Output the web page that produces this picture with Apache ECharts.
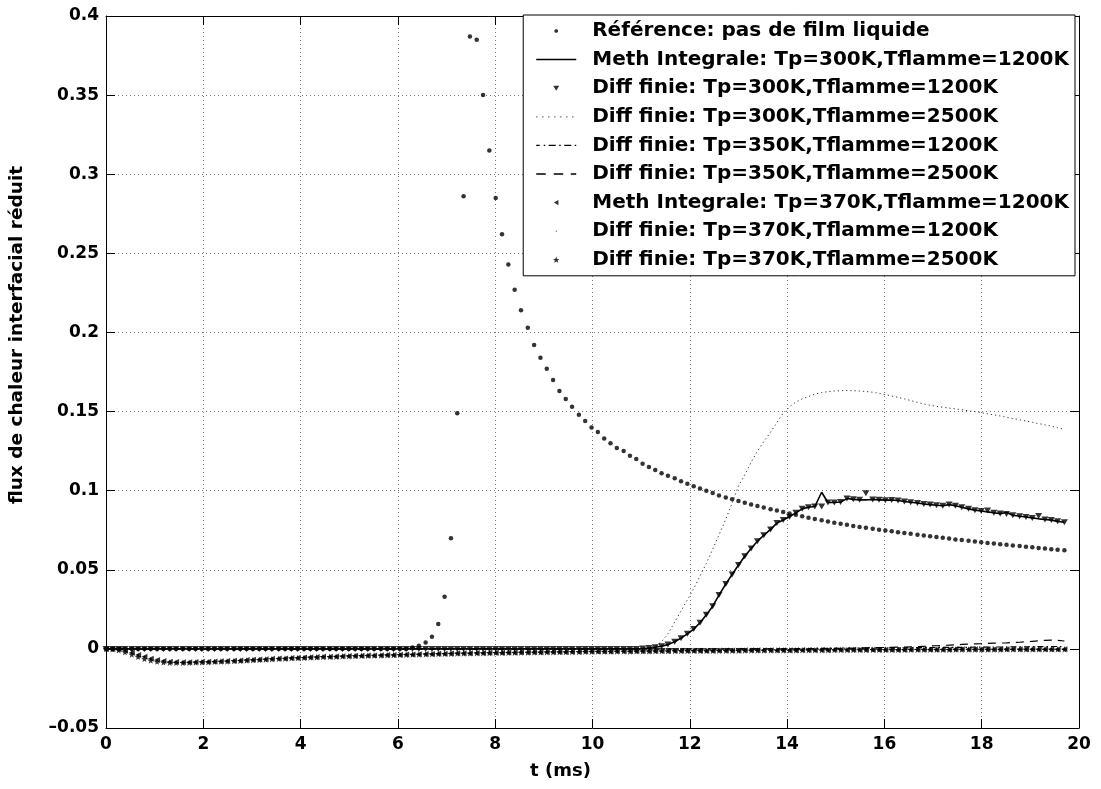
<!DOCTYPE html>
<html>
<head>
<meta charset="utf-8">
<script src="https://cdn.jsdelivr.net/npm/echarts@6/dist/echarts.min.js"></script>
<style>html,body{margin:0;padding:0;background:#fff}#c{width:1101px;height:789px}</style>
</head>
<body>
<div id="c"></div>
<script>
// time samples (ms)
const t = [
0,0.13,0.26,0.39,0.53,0.66,0.79,0.92,1.05,1.18,
1.31,1.44,1.58,1.71,1.84,1.97,2.10,2.23,2.36,2.49,
2.63,2.76,2.89,3.02,3.15,3.28,3.41,3.55,3.68,3.81,
3.94,4.07,4.20,4.33,4.46,4.60,4.73,4.86,4.99,5.12,
5.25,5.38,5.51,5.65,5.78,5.91,6.04,6.17,6.30,6.43,
6.57,6.70,6.83,6.96,7.09,7.22,7.35,7.48,7.62,7.75,
7.88,8.01,8.14,8.27,8.40,8.53,8.67,8.80,8.93,9.06,
9.19,9.32,9.45,9.58,9.72,9.85,9.98,10.11,10.24,10.37,
10.50,10.64,10.77,10.90,11.03,11.16,11.29,11.42,11.55,11.69,
11.82,11.95,12.08,12.21,12.34,12.47,12.60,12.74,12.87,13.00,
13.13,13.26,13.39,13.52,13.66,13.79,13.92,14.05,14.18,14.31,
14.44,14.57,14.71,14.84,14.97,15.10,15.23,15.36,15.49,15.62,
15.76,15.89,16.02,16.15,16.28,16.41,16.54,16.68,16.81,16.94,
17.07,17.20,17.33,17.46,17.59,17.73,17.86,17.99,18.12,18.25,
18.38,18.51,18.64,18.78,18.91,19.04,19.17,19.30,19.43,19.56,
19.70];

const refNoFilm = [
0,0,0,0,0,0,0,0,0,0,
0,0,0,0,0,0,0,0,0,0,
0,0,0,0,0,0,0,0,0,0,
0,0,0,0,0,0,0,0,0,0,
0,0,0,0,0,0,0,0,0.0008,0.002,
0.004,0.0076,0.0158,0.033,0.070,0.149,0.286,0.387,0.385,0.350,
0.315,0.285,0.262,0.243,0.227,0.214,0.203,0.192,0.184,0.177,
0.170,0.163,0.158,0.153,0.148,0.144,0.140,0.137,0.133,0.130,
0.127,0.125,0.122,0.120,0.117,0.115,0.113,0.111,0.1095,0.1078,
0.1060,0.1043,0.1028,0.1013,0.0999,0.0985,0.0970,0.0957,0.0945,0.0934,
0.0923,0.0913,0.0903,0.0893,0.0883,0.0874,0.0865,0.0856,0.0847,0.0838,
0.0829,0.0821,0.0813,0.0805,0.0798,0.0791,0.0784,0.0777,0.0771,0.0765,
0.0759,0.0753,0.0748,0.0743,0.0737,0.0732,0.0727,0.0722,0.0717,0.0712,
0.0707,0.0702,0.0697,0.0692,0.0688,0.0683,0.0679,0.0674,0.0670,0.0666,
0.0662,0.0658,0.0654,0.0650,0.0646,0.0642,0.0638,0.0634,0.0630,0.0627,
0.0623];

const methTp300 = [
0,0,0,0,0,0,0,0,0,0,
0,0,0,0,0,0,0,0,0,0,
0,0,0,0,0,0,0,0,0,0,
0,0,0,0,0,0,0,0,0,0,
0,0,0,0,0,0,0,0,0,0,
0,0,0,0,0,0,0,0,0,0,
0,0,0,0,0,0,0,0,0,0,
0,0,0,0,0,0,0,0,0,0,
0,0,0,0,0.0002,0.0005,0.001,0.0017,0.0027,0.0045,
0.0068,0.0095,0.0125,0.0165,0.0215,0.027,0.034,0.041,0.047,0.053,
0.0585,0.0635,0.068,0.0718,0.0755,0.0795,0.0815,0.0835,0.086,0.0885,
0.0895,0.0900,0.0990,0.0925,0.0925,0.0928,0.0950,0.0945,0.0942,0.0942,
0.0944,0.0942,0.0940,0.0941,0.0938,0.0932,0.0927,0.0922,0.0916,0.0912,
0.0908,0.0905,0.0912,0.0905,0.0895,0.0885,0.0877,0.0872,0.0866,0.0860,
0.0855,0.0862,0.0845,0.0838,0.0834,0.0828,0.0822,0.0818,0.0814,0.0806,
0.0800];

const diffTp300F1200 = [
0,0,0,0,0,0,0,0,0,0,
0,0,0,0,0,0,0,0,0,0,
0,0,0,0,0,0,0,0,0,0,
0,0,0,0,0,0,0,0,0,0,
0,0,0,0,0,0,0,0,0,0,
0,0,0,0,0,0,0,0,0,0,
0,0,0,0,0,0,0,0,0,0,
0,0,0,0,0,0,0,0,0,0,
0,0,0,0,0.0002,0.0005,0.001,0.0017,0.0027,0.0045,
0.0068,0.0095,0.0125,0.0165,0.0215,0.027,0.034,0.041,0.047,0.053,
0.0585,0.0635,0.068,0.0718,0.0755,0.0795,0.0815,0.0835,0.086,0.0885,
0.0895,0.0900,0.0900,0.0925,0.0925,0.0928,0.0950,0.0945,0.0942,0.0984,
0.0944,0.0942,0.0940,0.0941,0.0938,0.0932,0.0927,0.0922,0.0916,0.0912,
0.0908,0.0905,0.0912,0.0905,0.0895,0.0885,0.0877,0.0872,0.0874,0.0860,
0.0855,0.0852,0.0845,0.0838,0.0834,0.0828,0.0840,0.0818,0.0814,0.0806,
0.0800];

const diffTp300F2500 = [
0,0,0,0,0,0,0,0,0,0,
0,0,0,0,0,0,0,0,0,0,
0,0,0,0,0,0,0,0,0,0,
0,0,0,0,0,0,0,0,0,0,
0,0,0,0,0,0,0,0,0,0,
0,0,0,0,0,0,0,0,0,0,
0,0,0,0,0,0,0,0,0,0,
0,0,0,0,0,0,0,0,0,0,
0,0,0,0,0,0.0005,0.0018,0.0045,0.0095,0.017,
0.024,0.031,0.038,0.046,0.054,0.063,0.072,0.082,0.092,0.103,
0.110,0.118,0.125,0.131,0.137,0.143,0.149,0.153,0.156,0.158,
0.1595,0.161,0.162,0.1626,0.163,0.1632,0.1633,0.1632,0.163,0.1627,
0.1622,0.1615,0.1607,0.1598,0.159,0.158,0.157,0.1558,0.1548,0.154,
0.1533,0.1527,0.1522,0.1517,0.1511,0.1505,0.1499,0.1493,0.1486,0.1479,
0.1472,0.1464,0.1456,0.1448,0.1440,0.1432,0.1424,0.1416,0.1408,0.1398,
0.1388];

const diffTp350F1200 = [
0,0,0,0,0,0,0,0,0,0,
0,0,0,0,0,0,0,0,0,0,
0,0,0,0,0,0,0,0,0,0,
0,0,0,0,0,0,0,0,0,0,
0,0,0,0,0,0,0,0,0,0,
0,0,0,0,0,0,0,0,0,0,
0,0,0,0,0,0,0,0,0,0,
0,0,0,0,0,0,0,0,0,0,
0,0,0,0,0,0,0,0,0,0,
0,0,0,0,0,0,0,0,0,0,
0,0,0,0,0,0,0,0.0001,0.0001,0.0002,
0.0002,0.0002,0.0003,0.0003,0.0003,0.0004,0.0004,0.0004,0.0005,0.0005,
0.0005,0.0006,0.0006,0.0006,0.0007,0.0007,0.0007,0.0008,0.0008,0.0008,
0.0009,0.0009,0.0009,0.001,0.001,0.001,0.0011,0.0011,0.0011,0.0012,
0.0012,0.0012,0.0013,0.0013,0.0013,0.0014,0.0014,0.0014,0.0015,0.0015,
0.0015];

const diffTp350F2500 = [
0,0,0,0,0,0,0,0,0,0,
0,0,0,0,0,0,0,0,0,0,
0,0,0,0,0,0,0,0,0,0,
0,0,0,0,0,0,0,0,0,0,
0,0,0,0,0,0,0,0,0,0,
0,0,0,0,0,0,0,0,0,0,
0,0,0,0,0,0,0,0,0,0,
0,0,0,0,0,0,0,0,0,0,
0,0,0,0,0,0,0,0,0,0,
0,0,0,0,0,0,0,0,0,0,
0,0,0,0,0,0,0,0,0,0,
0,0,0,0,0,0.0002,0.0003,0.0004,0.0005,0.0006,
0.0007,0.0008,0.0009,0.001,0.0011,0.0012,0.0013,0.0014,0.0016,0.0018,
0.002,0.0022,0.0024,0.0026,0.0028,0.003,0.0032,0.0033,0.0035,0.0036,
0.0037,0.0038,0.004,0.0042,0.0045,0.0048,0.0051,0.0054,0.0055,0.0054,
0.005];

const methTp370 = [
0,0,-0.0003,-0.0012,-0.0025,-0.0038,-0.005,-0.0062,-0.0071,-0.0077,
-0.0081,-0.0083,-0.0084,-0.0084,-0.0083,-0.0082,-0.0081,-0.008,-0.0078,-0.0077,
-0.0075,-0.0073,-0.0071,-0.0069,-0.0067,-0.0065,-0.0063,-0.0061,-0.006,-0.0058,
-0.0056,-0.0055,-0.0053,-0.0052,-0.005,-0.0049,-0.0048,-0.0046,-0.0045,-0.0044,
-0.0043,-0.0042,-0.0041,-0.004,-0.0039,-0.0038,-0.0037,-0.0036,-0.0035,-0.0034,
-0.0033,-0.0032,-0.0031,-0.003,-0.0029,-0.0028,-0.0028,-0.0027,-0.0026,-0.0026,
-0.0025,-0.0024,-0.0024,-0.0023,-0.0023,-0.0022,-0.0022,-0.0021,-0.0021,-0.002,
-0.002,-0.0019,-0.0019,-0.0018,-0.0018,-0.0017,-0.0017,-0.0016,-0.0016,-0.0016,
-0.0015,-0.0015,-0.0015,-0.0014,-0.0014,-0.0014,-0.0013,-0.0013,-0.0013,-0.0012,
-0.0012,-0.0012,-0.0011,-0.0011,-0.0011,-0.0011,-0.001,-0.001,-0.001,-0.001,
-0.0009,-0.0009,-0.0009,-0.0009,-0.0008,-0.0008,-0.0008,-0.0008,-0.0008,-0.0007,
-0.0007,-0.0007,-0.0007,-0.0007,-0.0006,-0.0006,-0.0006,-0.0006,-0.0006,-0.0006,
-0.0005,-0.0005,-0.0005,-0.0005,-0.0005,-0.0005,-0.0004,-0.0004,-0.0004,-0.0004,
-0.0004,-0.0004,-0.0004,-0.0003,-0.0003,-0.0003,-0.0003,-0.0003,-0.0003,-0.0003,
-0.0003,-0.0002,-0.0002,-0.0002,-0.0002,-0.0002,-0.0002,-0.0002,-0.0002,-0.0002,
-0.0002];

const diffTp370F1200 = [
0,0,-0.0003,-0.0012,-0.0025,-0.0038,-0.005,-0.0062,-0.0071,-0.0077,
-0.0081,-0.0083,-0.0084,-0.0084,-0.0083,-0.0082,-0.0081,-0.008,-0.0078,-0.0077,
-0.0075,-0.0073,-0.0071,-0.0069,-0.0067,-0.0065,-0.0063,-0.0061,-0.006,-0.0058,
-0.0056,-0.0055,-0.0053,-0.0052,-0.005,-0.0049,-0.0048,-0.0046,-0.0045,-0.0044,
-0.0043,-0.0042,-0.0041,-0.004,-0.0039,-0.0038,-0.0037,-0.0036,-0.0035,-0.0034,
-0.0033,-0.0032,-0.0031,-0.003,-0.0029,-0.0028,-0.0028,-0.0027,-0.0026,-0.0026,
-0.0025,-0.0024,-0.0024,-0.0023,-0.0023,-0.0022,-0.0022,-0.0021,-0.0021,-0.002,
-0.002,-0.0019,-0.0019,-0.0018,-0.0018,-0.0017,-0.0017,-0.0016,-0.0016,-0.0016,
-0.0015,-0.0015,-0.0015,-0.0014,-0.0014,-0.0014,-0.0013,-0.0013,-0.0013,-0.0012,
-0.0012,-0.0012,-0.0011,-0.0011,-0.0011,-0.0011,-0.001,-0.001,-0.001,-0.001,
-0.0009,-0.0009,-0.0009,-0.0009,-0.0008,-0.0008,-0.0008,-0.0008,-0.0008,-0.0007,
-0.0007,-0.0007,-0.0007,-0.0007,-0.0006,-0.0006,-0.0006,-0.0006,-0.0006,-0.0006,
-0.0005,-0.0005,-0.0005,-0.0005,-0.0005,-0.0005,-0.0004,-0.0004,-0.0004,-0.0004,
-0.0004,-0.0004,-0.0004,-0.0003,-0.0003,-0.0003,-0.0003,-0.0003,-0.0003,-0.0003,
-0.0003,-0.0002,-0.0002,-0.0002,-0.0002,-0.0002,-0.0002,-0.0002,-0.0002,-0.0002,
-0.0002];

const diffTp370F2500 = [
0,-0.0002,-0.0008,-0.002,-0.0035,-0.005,-0.0063,-0.0073,-0.008,-0.0085,
-0.0087,-0.0088,-0.0088,-0.0087,-0.0086,-0.0085,-0.0084,-0.0082,-0.008,-0.0079,
-0.0077,-0.0075,-0.0073,-0.0071,-0.0069,-0.0067,-0.0065,-0.0063,-0.0061,-0.0059,
-0.0058,-0.0056,-0.0054,-0.0053,-0.0051,-0.005,-0.0049,-0.0047,-0.0046,-0.0045,
-0.0044,-0.0043,-0.0042,-0.0041,-0.004,-0.0039,-0.0038,-0.0037,-0.0036,-0.0035,
-0.0034,-0.0033,-0.0032,-0.0031,-0.003,-0.0029,-0.0029,-0.0028,-0.0027,-0.0027,
-0.0026,-0.0025,-0.0025,-0.0024,-0.0024,-0.0023,-0.0023,-0.0022,-0.0022,-0.0021,
-0.0021,-0.002,-0.002,-0.0019,-0.0019,-0.0018,-0.0018,-0.0017,-0.0017,-0.0017,
-0.0016,-0.0016,-0.0016,-0.0015,-0.0015,-0.0015,-0.0014,-0.0014,-0.0014,-0.0013,
-0.0013,-0.0013,-0.0012,-0.0012,-0.0012,-0.0012,-0.0011,-0.0011,-0.0011,-0.0011,
-0.001,-0.001,-0.001,-0.001,-0.0009,-0.0009,-0.0009,-0.0009,-0.0009,-0.0008,
-0.0008,-0.0008,-0.0008,-0.0008,-0.0007,-0.0007,-0.0007,-0.0007,-0.0007,-0.0007,
-0.0006,-0.0006,-0.0006,-0.0006,-0.0006,-0.0006,-0.0005,-0.0005,-0.0005,-0.0005,
-0.0005,-0.0005,-0.0005,-0.0004,-0.0004,-0.0004,-0.0004,-0.0004,-0.0004,-0.0004,
-0.0004,-0.0003,-0.0003,-0.0003,-0.0003,-0.0003,-0.0003,-0.0003,-0.0003,-0.0003,
-0.0003];

const names = [
  'Référence: pas de film liquide',
  'Meth Integrale: Tp=300K,Tflamme=1200K',
  'Diff finie: Tp=300K,Tflamme=1200K',
  'Diff finie: Tp=300K,Tflamme=2500K',
  'Diff finie: Tp=350K,Tflamme=1200K',
  'Diff finie: Tp=350K,Tflamme=2500K',
  'Meth Integrale: Tp=370K,Tflamme=1200K',
  'Diff finie: Tp=370K,Tflamme=1200K',
  'Diff finie: Tp=370K,Tflamme=2500K'
];
const xTicks = {min: 0, max: 20, step: 2};
const yTicks = {min: -0.05, max: 0.4, step: 0.05};

const pairs = arr => t.map((x, i) => [x, arr[i]]);
const FONT = 'DejaVu Sans';
const STAR = 'path://M0,-5 L1.3,-1.7 L4.8,-1.5 L2.0,0.7 L2.9,4.0 L0,2.1 L-2.9,4.0 L-2.0,0.7 L-4.8,-1.5 L-1.3,-1.7 Z';

// legend icons: 51x14 box, line spans 0..40, marker centred at x=20
const A = 'path://M0,0 L0.01,0 L0,0.01 Z M51,14 L50.99,14 L51,13.99 Z ';
const rect = (x0, x1, y0, y1) => `M${x0},${y0} L${x1},${y0} L${x1},${y1} L${x0},${y1} Z `;
const icons = [
  A + 'M18.2,6.2 L19.2,5.2 L20.8,5.2 L21.8,6.2 L21.8,7.8 L20.8,8.8 L19.2,8.8 L18.2,7.8 Z',
  A + rect(0, 40, 6.25, 7.75),
  A + 'M17,4.5 L23,4.5 L20,9.5 Z',
  A + rect(0,1.2,6.4,7.6) + rect(6,7.2,6.4,7.6) + rect(12,13.2,6.4,7.6) + rect(18,19.2,6.4,7.6) + rect(24,25.2,6.4,7.6) + rect(30,31.2,6.4,7.6) + rect(36,37.2,6.4,7.6),
  A + rect(0,3.5,6.4,7.6) + rect(7.5,9,6.4,7.6) + rect(12.5,19.5,6.4,7.6) + rect(23,24.5,6.4,7.6) + rect(28,35,6.4,7.6) + rect(38.5,40,6.4,7.6),
  A + rect(0,9.5,6.3,7.7) + rect(17.5,27,6.3,7.7) + rect(34.5,40,6.3,7.7),
  A + 'M22.2,4.3 L22.2,9.7 L17.6,7 Z',
  A + rect(19.5,20.5,6.5,7.5),
  A + 'M20,3.8 L20.9,6.1 L23.2,6.2 L21.4,7.6 L22,9.9 L20,8.6 L18,9.9 L18.6,7.6 L16.8,6.2 L19.1,6.1 Z'
];

const chart = echarts.init(document.getElementById('c'), null, {renderer: 'canvas'});
const axisLabelStyle = {fontFamily: FONT, fontWeight: 'bold', fontSize: 17, color: '#000'};
const gridLine = {show: true, lineStyle: {color: '#777', width: 1, type: [1, 3]}};

chart.setOption({
  animation: false,
  backgroundColor: '#fff',
  grid: {left: 106, right: 22, top: 16, bottom: 61},
  xAxis: [
    {type: 'value', min: xTicks.min, max: xTicks.max, interval: xTicks.step, position: 'bottom',
     axisLine: {show: true, onZero: false, lineStyle: {color: '#000', width: 1}},
     axisTick: {show: true, inside: true, length: 9, lineStyle: {color: '#000'}},
     axisLabel: Object.assign({margin: 8}, axisLabelStyle),
     splitLine: gridLine,
     name: 't (ms)', nameLocation: 'middle', nameGap: 34,
     nameTextStyle: {fontFamily: FONT, fontWeight: 'bold', fontSize: 18, color: '#000', padding: [0, 64, 0, 0]}},
    {type: 'value', min: xTicks.min, max: xTicks.max, interval: xTicks.step, position: 'top',
     axisLine: {show: true, onZero: false, lineStyle: {color: '#000', width: 1}},
     axisTick: {show: true, inside: true, length: 9, lineStyle: {color: '#000'}},
     axisLabel: {show: false}, splitLine: {show: false}}
  ],
  yAxis: [
    {type: 'value', min: yTicks.min, max: yTicks.max, interval: yTicks.step, position: 'left',
     axisLine: {show: true, onZero: false, lineStyle: {color: '#000', width: 1}},
     axisTick: {show: true, inside: true, length: 9, lineStyle: {color: '#000'}},
     axisLabel: Object.assign({margin: 7, formatter: v => {
        const r = Math.round(v * 100) / 100;
        if (r === 0) return '0';
        return (r < 0 ? '\u2013' : '') + String(Math.abs(r));
     }}, axisLabelStyle),
     splitLine: gridLine,
     name: 'flux de chaleur interfacial réduit', nameLocation: 'middle', nameGap: 79,
     nameTextStyle: {fontFamily: FONT, fontWeight: 'bold', fontSize: 18.5, color: '#000', padding: [0, 0, 0, 74]}},
    {type: 'value', min: yTicks.min, max: yTicks.max, interval: yTicks.step, position: 'right',
     axisLine: {show: true, onZero: false, lineStyle: {color: '#000', width: 1}},
     axisTick: {show: true, inside: true, length: 9, lineStyle: {color: '#000'}},
     axisLabel: {show: false}, splitLine: {show: false}}
  ],
  legend: {
    orient: 'vertical', right: 26, top: 15,
    padding: [6, 6, 6, 13],
    itemWidth: 51, itemHeight: 14, itemGap: 8.6,
    backgroundColor: '#fff', borderColor: '#000', borderWidth: 1,
    selectedMode: false,
    textStyle: {fontFamily: FONT, fontWeight: 'bold', fontSize: 20, lineHeight: 20, color: '#000'},
    itemStyle: {borderWidth: 0},
    data: names.map((n, i) => ({name: n, icon: icons[i], itemStyle: {color: i === 3 ? '#555' : '#000', borderWidth: 0}}))
  },
  series: [
    {name: names[0], type: 'scatter', data: pairs(refNoFilm), symbol: 'circle', symbolSize: 4.5,
     itemStyle: {color: '#000'}, z: 5},
    {name: names[1], type: 'line', data: pairs(methTp300), showSymbol: false, symbol: 'none',
     lineStyle: {color: '#000', width: 1.6}, itemStyle: {color: '#000'}, z: 3},
    {name: names[2], type: 'scatter', data: pairs(diffTp300F1200), symbol: 'triangle', symbolRotate: 180,
     symbolSize: [7, 6], itemStyle: {color: '#000'}, z: 4},
    {name: names[3], type: 'line', data: pairs(diffTp300F2500), showSymbol: false, symbol: 'none',
     lineStyle: {color: '#333', width: 1, type: [1.2, 3]}, itemStyle: {color: '#555'}, z: 3},
    {name: names[4], type: 'line', data: pairs(diffTp350F1200), showSymbol: false, symbol: 'none',
     lineStyle: {color: '#000', width: 1.2, type: [6, 3, 1.5, 3]}, itemStyle: {color: '#000'}, z: 3},
    {name: names[5], type: 'line', data: pairs(diffTp350F2500), showSymbol: false, symbol: 'none',
     lineStyle: {color: '#000', width: 1.2, type: [8, 6]}, itemStyle: {color: '#000'}, z: 3},
    {name: names[6], type: 'scatter', data: pairs(methTp370), symbol: 'triangle', symbolRotate: 90,
     symbolSize: [6, 6], itemStyle: {color: '#000'}, z: 4},
    {name: names[7], type: 'scatter', data: pairs(diffTp370F1200), symbol: 'circle', symbolSize: 2,
     itemStyle: {color: '#000'}, z: 4},
    {name: names[8], type: 'scatter', data: pairs(diffTp370F2500), symbol: STAR, symbolSize: 6.5,
     itemStyle: {color: '#000'}, z: 4}
  ]
});
</script>
</body>
</html>
